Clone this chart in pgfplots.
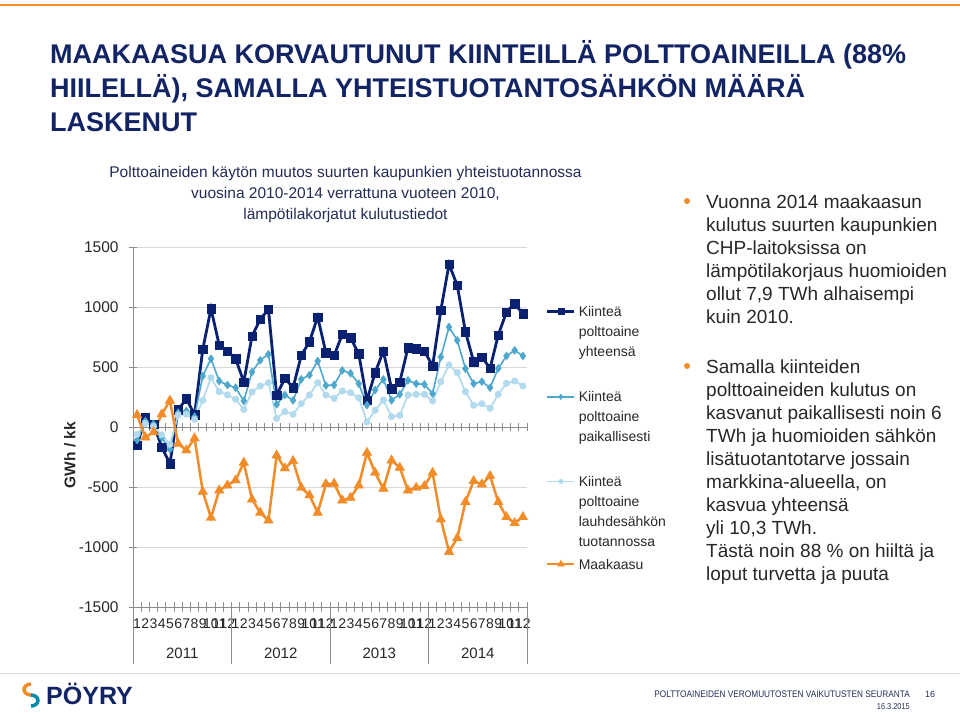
\documentclass[border=0pt]{standalone}
\usepackage{pgfplots}
\pgfplotsset{compat=1.18}
\usepackage{fontspec}
\setmainfont{Liberation Sans}
\usepackage{graphicx}
\definecolor{navy}{RGB}{10,32,112}
\definecolor{midblue}{RGB}{78,168,205}
\definecolor{lightblue}{RGB}{178,218,238}
\definecolor{gasorange}{RGB}{242,140,40}
\definecolor{titleblue}{RGB}{18,36,100}
\definecolor{gridgray}{RGB}{217,217,217}
\definecolor{axisgray}{RGB}{140,140,140}
\definecolor{textgray}{RGB}{40,40,40}
\definecolor{subblue}{RGB}{35,45,85}
\definecolor{logoteal}{RGB}{0,140,170}
\newcommand{\fs}[2]{\fontsize{#1pt}{#2pt}\selectfont}
\begin{document}
\begin{tikzpicture}
\fill[white] (0pt,0pt) rectangle (960pt,-712pt);
\draw[gasorange, line width=2pt] (0pt,-4.5pt) -- (960pt,-4.5pt);
\begin{scope}[shift={(133pt,-607pt)}]
\begin{axis}[at={(0pt,0pt)}, anchor=south west, scale only axis, width=394pt, height=360pt,
  xmin=-0.5, xmax=47.5, ymin=-1500, ymax=1500, clip=false,
  axis x line*=middle, axis y line*=left,
  x axis line style={axisgray, line width=0.9pt, -},
  y axis line style={axisgray, line width=0.8pt, -},
  xtick={-0.5,0.5,...,47.5}, xticklabels={,,},
  ytick={-1500,-1000,-500,0,500,1000,1500},
  yticklabels={-1500,-1000,-500,0,500,1000,1500},
  tick align=center, major tick length=8.5pt,
  tick style={axisgray, line width=0.8pt},
  ymajorgrids, grid style={gridgray, line width=0.8pt},
  yticklabel style={font=\fs{15.5}{15.5}, text=textgray, inner sep=0pt, anchor=east, xshift=-10pt},
  legend style={at={(1.0482,0.836)}, anchor=north west, draw=none, fill=none, inner sep=0pt, outer sep=0pt,
    row sep=0pt, column sep=3pt, font=\fs{14}{20}, text=textgray, cells={anchor=base west},
    nodes={text width=110pt, align=left, inner sep=0pt, text depth=, text height=}},
  legend image code/.code={\draw[mark repeat=2,mark phase=2,#1, every mark/.append style={scale=0.7}] plot coordinates {(0pt,5pt) (13.5pt,5pt) (27pt,5pt)};},
]
\addplot[navy, line width=2.8pt, mark=square*, mark size=4.2pt, mark options={solid, fill=navy, draw=navy, line width=0.4pt}] coordinates {
(0,-150) (1,78) (2,25) (3,-167) (4,-305) (5,143) (6,236) (7,103) (8,647) (9,986) (10,683) (11,633)
(12,569) (13,375) (14,758) (15,897) (16,980) (17,264) (18,406) (19,328) (20,597) (21,711) (22,917) (23,619)
(24,597) (25,772) (26,744) (27,611) (28,222) (29,453) (30,633) (31,319) (32,375) (33,661) (34,653) (35,633)
(36,508) (37,972) (38,1356) (39,1181) (40,794) (41,544) (42,583) (43,489) (44,767) (45,958) (46,1028) (47,944)};
\addlegendentry{Kiinteä\\polttoaine\\yhteensä\rule[-35.5pt]{0pt}{35.5pt}}
\addplot[midblue, line width=1.6pt, mark=diamond*, mark size=4pt, mark options={solid, fill=midblue, draw=midblue, line width=0.4pt}] coordinates {
(0,-108) (1,50) (2,25) (3,-89) (4,-186) (5,119) (6,133) (7,86) (8,425) (9,569) (10,383) (11,350)
(12,328) (13,217) (14,458) (15,556) (16,606) (17,189) (18,267) (19,222) (20,397) (21,433) (22,550) (23,346)
(24,350) (25,472) (26,447) (27,361) (28,183) (29,308) (30,397) (31,222) (32,272) (33,389) (34,361) (35,355)
(36,278) (37,583) (38,833) (39,722) (40,486) (41,361) (42,378) (43,328) (44,489) (45,592) (46,639) (47,592)};
\addlegendentry{Kiinteä\\polttoaine\\paikallisesti\rule[-34.5pt]{0pt}{34.5pt}}
\addplot[lightblue, line width=1.7pt, mark=*, mark size=3.3pt, mark options={solid, fill=lightblue, draw=lightblue, line width=0.4pt}] coordinates {
(0,-60) (1,30) (2,5) (3,-65) (4,-144) (5,100) (6,106) (7,64) (8,222) (9,411) (10,294) (11,267)
(12,231) (13,147) (14,292) (15,342) (16,369) (17,72) (18,128) (19,106) (20,194) (21,267) (22,369) (23,266)
(24,239) (25,300) (26,286) (27,244) (28,42) (29,139) (30,225) (31,86) (32,97) (33,267) (34,272) (35,272)
(36,217) (37,378) (38,517) (39,453) (40,294) (41,181) (42,194) (43,156) (44,272) (45,364) (46,383) (47,342)};
\addlegendentry{Kiinteä\\polttoaine\\lauhdesähkön\\tuotannossa\rule[-12.5pt]{0pt}{12.5pt}}
\addplot[gasorange, line width=2.5pt, mark=triangle*, mark size=5.5pt, mark options={solid, fill=gasorange, draw=gasorange, line width=0.4pt}] coordinates {
(0,100) (1,-86) (2,-43) (3,106) (4,220) (5,-139) (6,-194) (7,-94) (8,-539) (9,-756) (10,-528) (11,-486)
(12,-444) (13,-297) (14,-603) (15,-714) (16,-778) (17,-236) (18,-344) (19,-283) (20,-506) (21,-569) (22,-714) (23,-475)
(24,-472) (25,-611) (26,-589) (27,-486) (28,-214) (29,-381) (30,-514) (31,-278) (32,-339) (33,-528) (34,-506) (35,-492)
(36,-381) (37,-769) (38,-1040) (39,-925) (40,-625) (41,-450) (42,-478) (43,-408) (44,-625) (45,-750) (46,-800) (47,-750)};
\addlegendentry{Maakaasu}
\end{axis}
\end{scope}

\begin{scope}[shift={(133pt,-607pt)}]
\begin{axis}[at={(0pt,0pt)}, anchor=south west, scale only axis, width=394pt, height=360pt,
  xmin=-0.5, xmax=47.5, ymin=-1500, ymax=1500,
  axis x line*=bottom, axis y line=none,
  x axis line style={axisgray, line width=0.8pt, -},
  xtick={0,...,47},
  xticklabels={1,2,3,4,5,6,7,8,9,10,11,12,1,2,3,4,5,6,7,8,9,10,11,12,1,2,3,4,5,6,7,8,9,10,11,12,1,2,3,4,5,6,7,8,9,10,11,12},
  ytick=\empty,
  minor xtick={-0.5,0.5,...,47.5},
  tick align=center, major tick length=0pt, minor tick length=10pt,
  minor tick style={axisgray, line width=0.8pt},
  xticklabel style={font=\fs{14}{14}, text=textgray, inner sep=0pt, anchor=north, yshift=-12pt},
]
\addplot[draw=none] coordinates {(0,0)};
\end{axis}
\end{scope}

\begin{scope}[x=1pt,y=1pt]
% title
\node[anchor=base west, inner sep=0pt, text=titleblue, font=\fs{27}{34}\bfseries] at (50,-63) {MAAKAASUA KORVAUTUNUT KIINTEILLÄ POLTTOAINEILLA (88\%};
\node[anchor=base west, inner sep=0pt, text=titleblue, font=\fs{27}{34}\bfseries] at (50,-97) {HIILELLÄ), SAMALLA YHTEISTUOTANTOSÄHKÖN MÄÄRÄ};
\node[anchor=base west, inner sep=0pt, text=titleblue, font=\fs{27}{34}\bfseries] at (50,-131) {LASKENUT};
% subtitle
\node[anchor=base, inner sep=0pt, text=subblue, font=\fs{15.5}{21}] at (345.5,-177) {Polttoaineiden käytön muutos suurten kaupunkien yhteistuotannossa};
\node[anchor=base, inner sep=0pt, text=subblue, font=\fs{15.5}{21}] at (345.5,-198) {vuosina 2010-2014 verrattuna vuoteen 2010,};
\node[anchor=base, inner sep=0pt, text=subblue, font=\fs{15.5}{21}] at (345.5,-219) {lämpötilakorjatut kulutustiedot};
% y label
\node[rotate=90, inner sep=0pt, text=textgray, font=\fs{15.5}{15.5}\bfseries] at (70,-455) {GWh / kk};
% year separators and labels
\foreach \x in {133,231.5,330,428.5,527} \draw[axisgray, line width=0.8pt] (\x,-603) -- (\x,-664);
\foreach \x/\y in {182.25/2011, 280.75/2012, 379.25/2013, 477.75/2014}
  \node[anchor=base, inner sep=0pt, font=\fs{15}{15}, text=textgray] at (\x,-658.5) {\y};
% right text
\fill[gasorange] (687,-201) circle (3);
\fill[gasorange] (687,-366) circle (3);
\foreach \t [count=\i from 0] in {Vuonna 2014 maakaasun, kulutus suurten kaupunkien, CHP-laitoksissa on, lämpötilakorjaus huomioiden, {ollut 7,9 TWh alhaisempi}, kuin 2010.}
  \node[anchor=base west, inner sep=0pt, font=\fs{19}{23}, text=textgray] at (706,-208-23*\i) {\t};
\foreach \t [count=\i from 0] in {Samalla kiinteiden, polttoaineiden kulutus on, kasvanut paikallisesti noin 6, TWh ja huomioiden sähkön, lisätuotantotarve jossain, {markkina-alueella, on}, kasvua yhteensä, {yli 10,3 TWh.}, Tästä noin 88 \% on hiiltä ja, loput turvetta ja puuta}
  \node[anchor=base west, inner sep=0pt, font=\fs{19}{23}, text=textgray] at (706,-373-23*\i) {\t};
% footer
\draw[gridgray, line width=1pt] (0,-673) -- (960,-673);
\draw[gasorange, line width=3.5pt] (31,-684) arc[start angle=90, end angle=270, x radius=7, y radius=5.5];
\draw[logoteal, line width=3.5pt] (31,-695) arc[start angle=90, end angle=-90, x radius=7, y radius=5.5];
\node[anchor=base west, inner sep=0pt, font=\fs{25}{25}\bfseries, text=titleblue] at (46,-704) {PÖYRY};
\node[anchor=base east, inner sep=0pt, font=\fs{9.5}{9.5}, text=subblue] at (910,-697) {\scalebox{0.87}[1]{POLTTOAINEIDEN VEROMUUTOSTEN VAIKUTUSTEN SEURANTA}};
\node[anchor=base, inner sep=0pt, font=\fs{9}{9}, text=subblue] at (930,-697) {16};
\node[anchor=base east, inner sep=0pt, font=\fs{8.5}{8.5}, text=subblue] at (910,-709) {\scalebox{0.87}[1]{16.3.2015}};
\end{scope}
\pgfresetboundingbox
\useasboundingbox (0pt,0pt) rectangle (960pt,-712pt);
\end{tikzpicture}
\end{document}
